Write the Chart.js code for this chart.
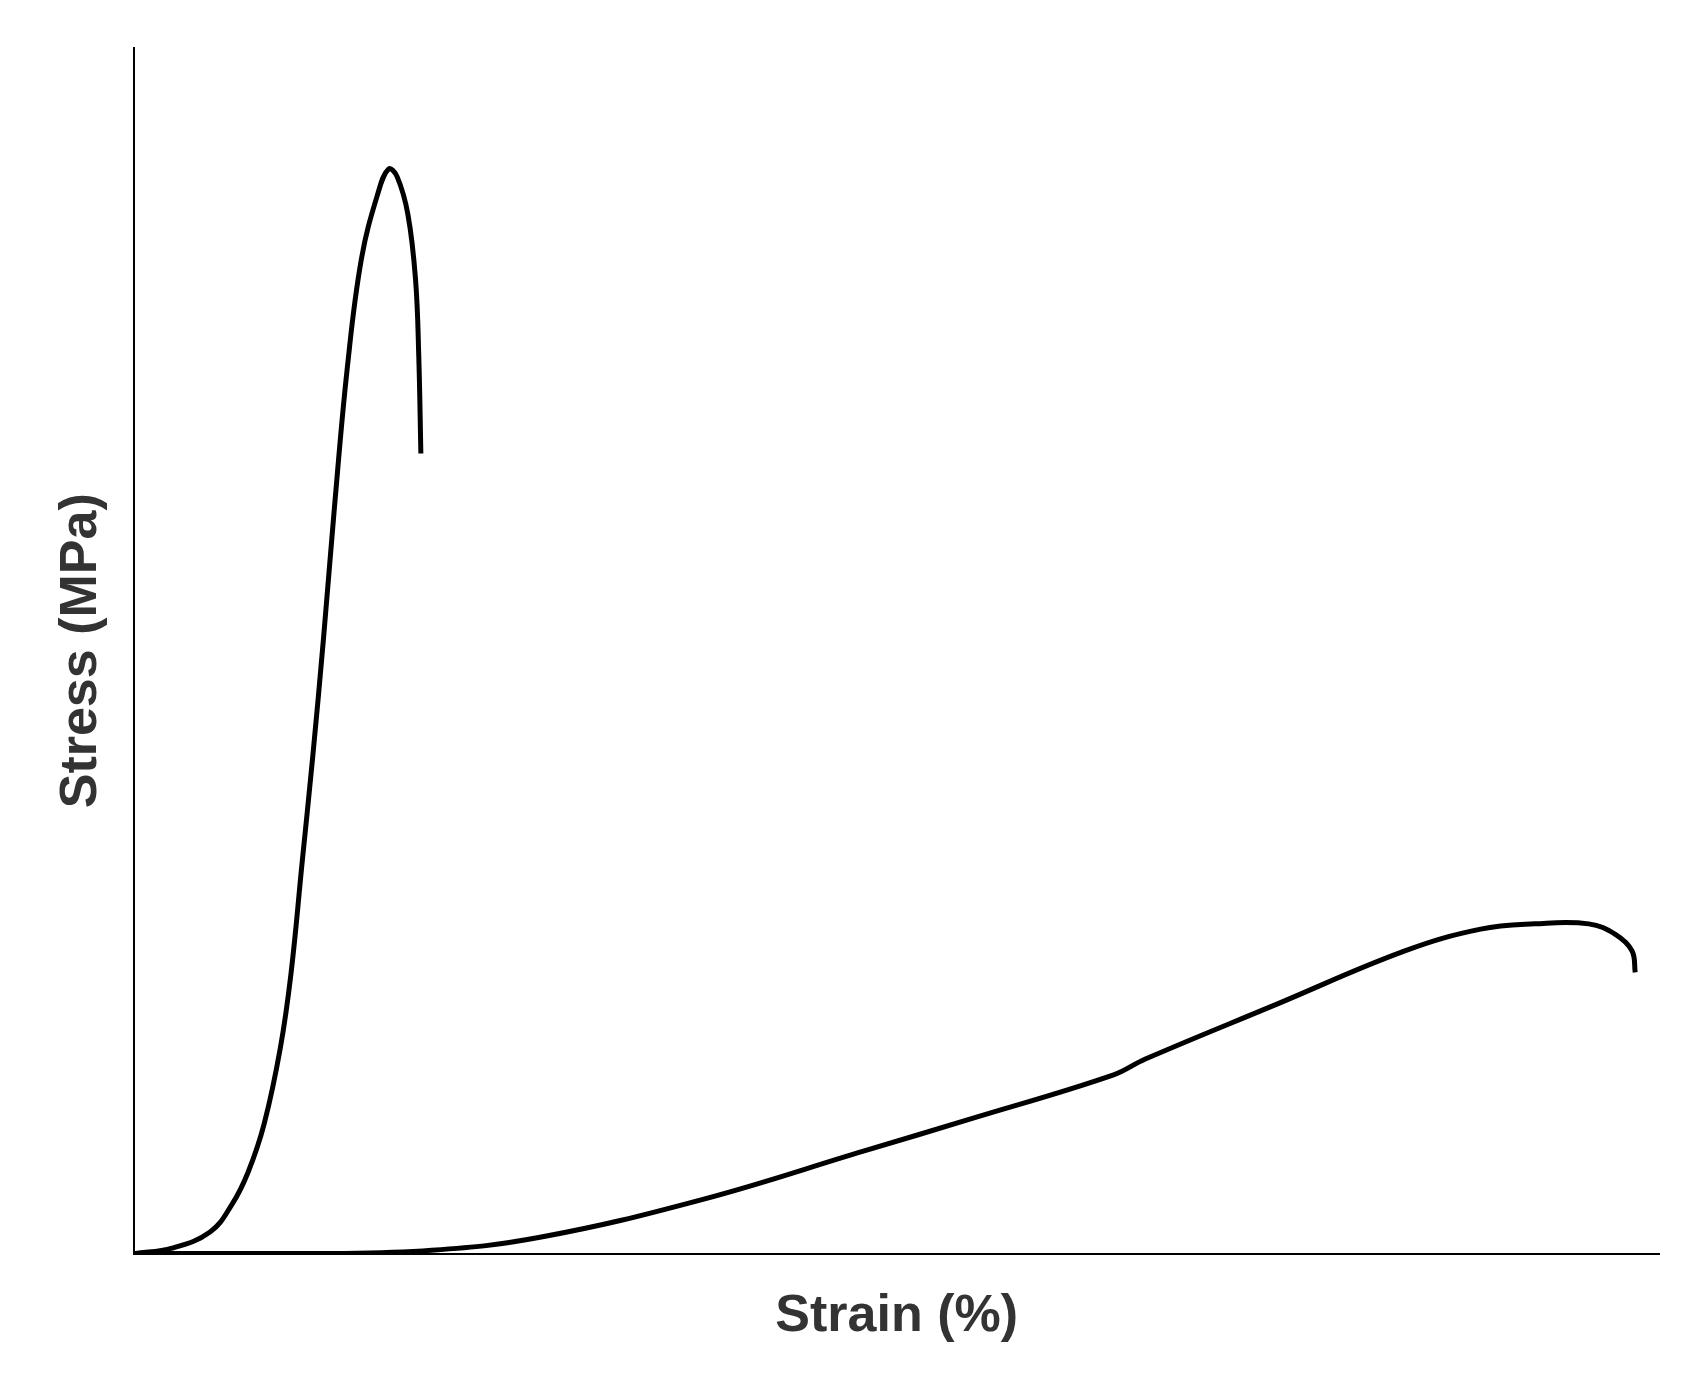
<!DOCTYPE html>
<html>
<head>
<meta charset="utf-8">
<script src="https://cdn.jsdelivr.net/npm/chart.js@4"></script>
<style>
  html, body { margin: 0; padding: 0; background: #fff; }
  #wrap { width: 1695px; height: 1374px; }
</style>
</head>
<body>
<div id="wrap"><canvas id="chart"></canvas></div>
<script>
// brittle sample (steep curve)
var strainA = [0, 2.48, 4.96, 6.38, 7.45, 8.51, 9.57, 10.28, 10.99, 11.70, 12.41, 13.12, 13.97, 14.89, 15.96, 16.67, 17.23, 17.94, 18.44, 18.65, 18.79];
var stressA = [0, 0.45, 1.79, 4.04, 6.73, 10.76, 17.04, 23.32, 32.29, 41.26, 51.12, 61.88, 73.54, 82.51, 87.89, 89.96, 89.33, 86.19, 80.81, 74.53, 66.37];
// ductile sample (long curve)
var strainB = [0, 12.41, 19.5, 26.6, 37.23, 47.87, 54.96, 64.18, 66.31, 74.82, 83.33, 88.3, 91.84, 95.39, 97.16, 98.23, 98.44];
var stressB = [0, 0, 0.27, 1.35, 4.48, 8.52, 11.21, 14.8, 16.14, 20.63, 25.11, 26.91, 27.35, 27.35, 26.46, 25.11, 23.32];

function toPoints(xs, ys) {
    let pts = [];
    for (let i = 0; i < xs.length; i++) pts.push({ x: xs[i], y: ys[i] });
    return pts;
}

var ctx = document.getElementById('chart').getContext('2d');
var lineStyle = { borderColor: '#000', borderWidth: 5, pointRadius: 0, tension: 0.4, fill: false };
new Chart(ctx, {
    type: 'scatter',
    data: {
        datasets: [
            Object.assign({ data: toPoints(strainA, stressA), showLine: true }, lineStyle),
            Object.assign({ data: toPoints(strainB, stressB), showLine: true }, lineStyle)
        ]
    },
    options: {
        responsive: true,
        maintainAspectRatio: false,
        animation: false,
        layout: { padding: { top: 48, right: 36, bottom: 22, left: 46 } },
        plugins: { legend: { display: false }, tooltip: { enabled: false } },
        scales: {
            x: {
                type: 'linear', min: 0, max: 100,
                grid: { display: false, drawTicks: false },
                border: { display: true, color: '#000', width: 2 },
                ticks: { display: false },
                title: { display: true, text: 'Strain (%)', color: '#333',
                         font: { family: 'Liberation Sans', size: 52, weight: 'bold' }, padding: { top: 32 } }
            },
            y: {
                type: 'linear', min: 0, max: 100,
                grid: { display: false, drawTicks: false },
                border: { display: true, color: '#000', width: 2 },
                ticks: { display: false },
                title: { display: true, text: 'Stress (MPa)', color: '#333',
                         font: { family: 'Liberation Sans', size: 52, weight: 'bold' }, padding: { bottom: 22 } }
            }
        }
    }
});
</script>
</body>
</html>
